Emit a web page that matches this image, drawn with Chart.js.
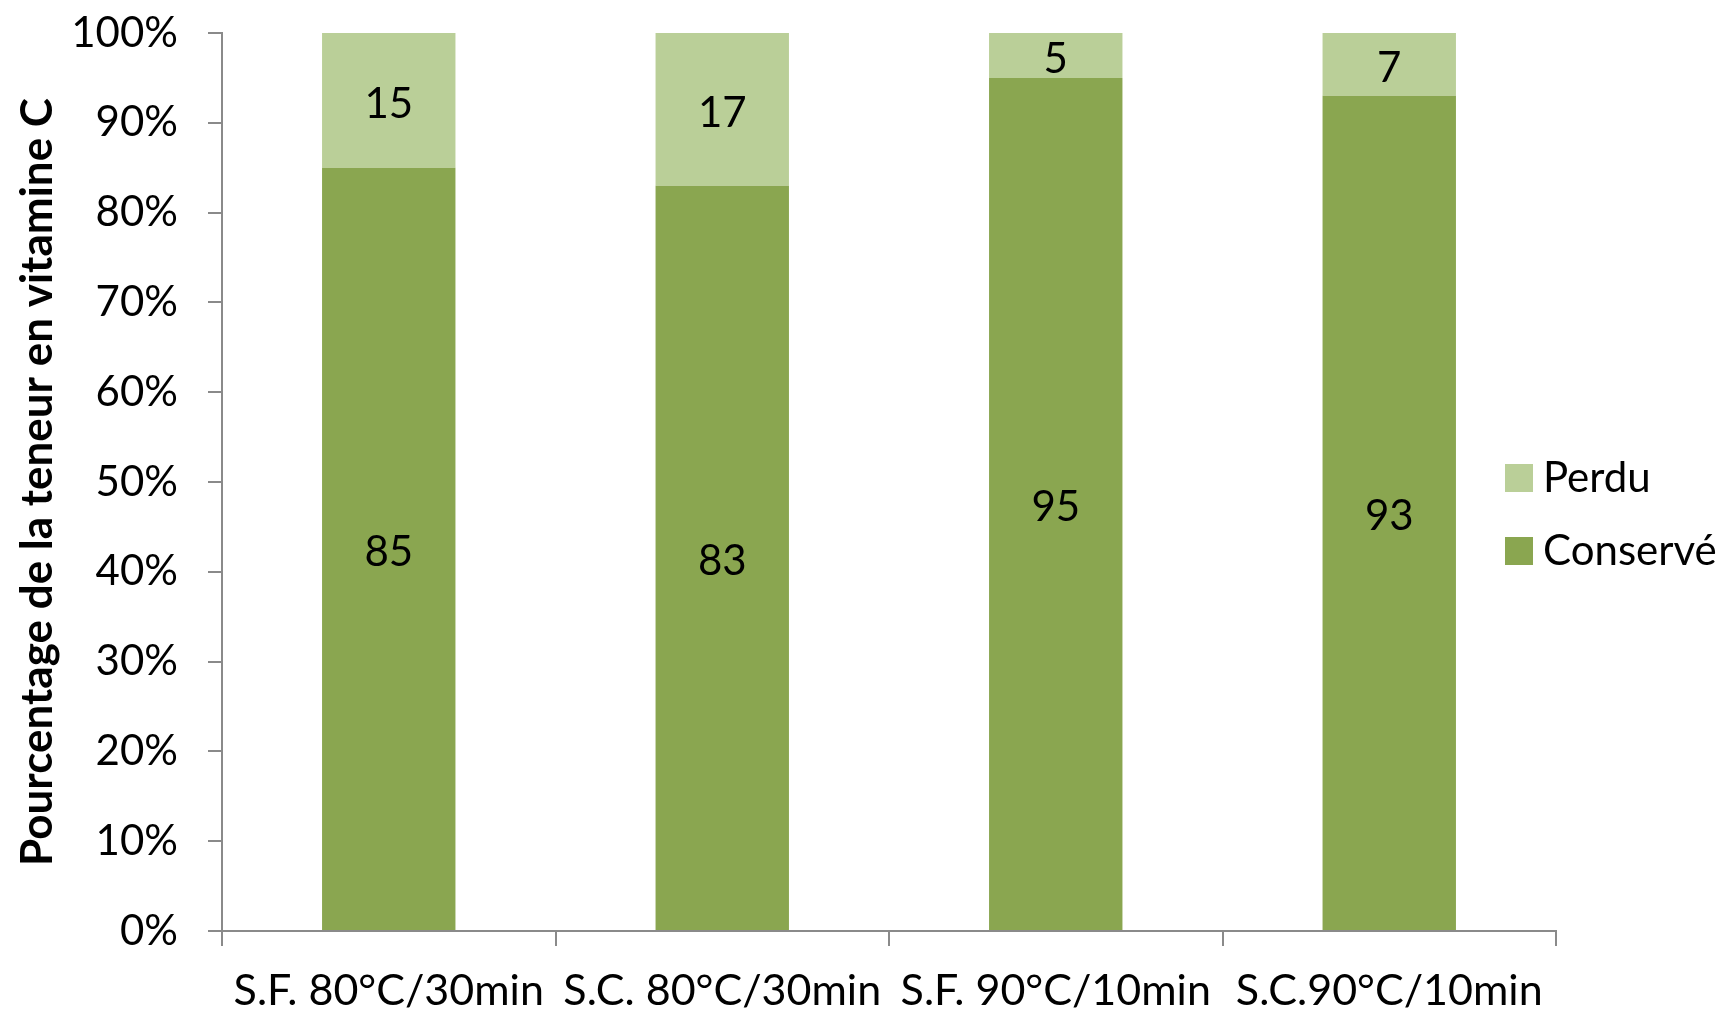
<!DOCTYPE html>
<html>
<head>
<meta charset="utf-8">
<script src="https://cdn.jsdelivr.net/npm/chart.js@4.4.1/dist/chart.umd.min.js"></script>
<style>
  html, body { margin: 0; padding: 0; background: #ffffff; }
  #wrap { width: 1728px; height: 1015px; }
</style>
</head>
<body>
<div id="wrap"><canvas id="c" width="1728" height="1015"></canvas></div>
<script>
// Vitamin C retention by heat treatment
const categories = ['S.F. 80°C/30min', 'S.C. 80°C/30min', 'S.F. 90°C/10min', 'S.C.90°C/10min'];
const conserve = [85, 83, 95, 93];
const perdu = [15, 17, 5, 7];
const yTicks = [0, 10, 20, 30, 40, 50, 60, 70, 80, 90, 100];

const FONT = 'Lato, "Liberation Sans", sans-serif';
const AXIS_GREY = '#8a8a8a';

// Writes each segment's value in its middle
const valueLabels = {
  id: 'valueLabels',
  afterDatasetsDraw(chart) {
    const ctx = chart.ctx;
    ctx.save();
    ctx.font = '42px ' + FONT;
    ctx.fillStyle = '#000000';
    ctx.textAlign = 'center';
    ctx.textBaseline = 'middle';
    chart.data.datasets.forEach((ds, di) => {
      const meta = chart.getDatasetMeta(di);
      meta.data.forEach((bar, i) => {
        const p = bar.getProps(['x', 'y', 'base'], true);
        ctx.fillText(String(ds.data[i]), p.x, (p.y + p.base) / 2 + 4);
      });
    });
    ctx.restore();
  }
};

// Legend drawn to the right of the bars, top entry = upper segment
const sideLegend = {
  id: 'sideLegend',
  afterDraw(chart) {
    const ctx = chart.ctx;
    const ds = chart.data.datasets.slice().reverse();
    const x0 = 1505, box = 28, rowGap = 73, yStart = 478;
    ctx.save();
    ctx.font = '42px ' + FONT;
    ctx.textBaseline = 'middle';
    ctx.textAlign = 'left';
    ds.forEach((d, i) => {
      const cy = yStart + i * rowGap;
      ctx.fillStyle = d.backgroundColor;
      ctx.fillRect(x0, cy - box / 2, box, box);
      ctx.fillStyle = '#000000';
      ctx.fillText(d.label, x0 + 38, cy);
    });
    ctx.restore();
  }
};

new Chart(document.getElementById('c'), {
  type: 'bar',
  data: {
    labels: categories,
    datasets: [
      { label: 'Conservé', data: conserve, backgroundColor: '#8aa650', borderWidth: 0,
        categoryPercentage: 0.4, barPercentage: 1.0 },
      { label: 'Perdu', data: perdu, backgroundColor: '#bacf98', borderWidth: 0,
        categoryPercentage: 0.4, barPercentage: 1.0 }
    ]
  },
  options: {
    responsive: false,
    animation: false,
    devicePixelRatio: 1,
    layout: { padding: { top: 33, right: 172, left: 0, bottom: 0 } },
    plugins: {
      legend: { display: false },
      tooltip: { enabled: false }
    },
    scales: {
      x: {
        stacked: true,
        grid: { display: true, drawOnChartArea: false, offset: true, tickLength: 15,
                color: AXIS_GREY, lineWidth: 2 },
        border: { display: true, color: AXIS_GREY, width: 2 },
        ticks: { color: '#000000', font: { family: FONT, size: 43 }, padding: 19, maxRotation: 0, autoSkip: false },
        afterFit(s) { s.height = 1015 - 931; }
      },
      y: {
        stacked: true,
        min: 0,
        max: 100,
        afterBuildTicks(s) { s.ticks = yTicks.map(v => ({ value: v })); },
        grid: { display: true, drawOnChartArea: false, tickLength: 14, color: AXIS_GREY, lineWidth: 2 },
        border: { display: true, color: AXIS_GREY, width: 2 },
        ticks: { color: '#000000', font: { family: FONT, size: 42 }, padding: 30,
                 callback: v => v + '%' },
        title: { display: true, text: 'Pourcentage de la teneur en vitamine C', color: '#000000',
                 font: { family: FONT, size: 44, weight: 'bold' }, padding: { top: 11, bottom: 0 } },
        afterFit(s) {
          s.width = 222;
          // the plot area edges come from the layout padding alone
          s.paddingTop = 0;
          s.paddingBottom = 0;
        }
      }
    }
  },
  plugins: [valueLabels, sideLegend]
});
</script>
</body>
</html>
